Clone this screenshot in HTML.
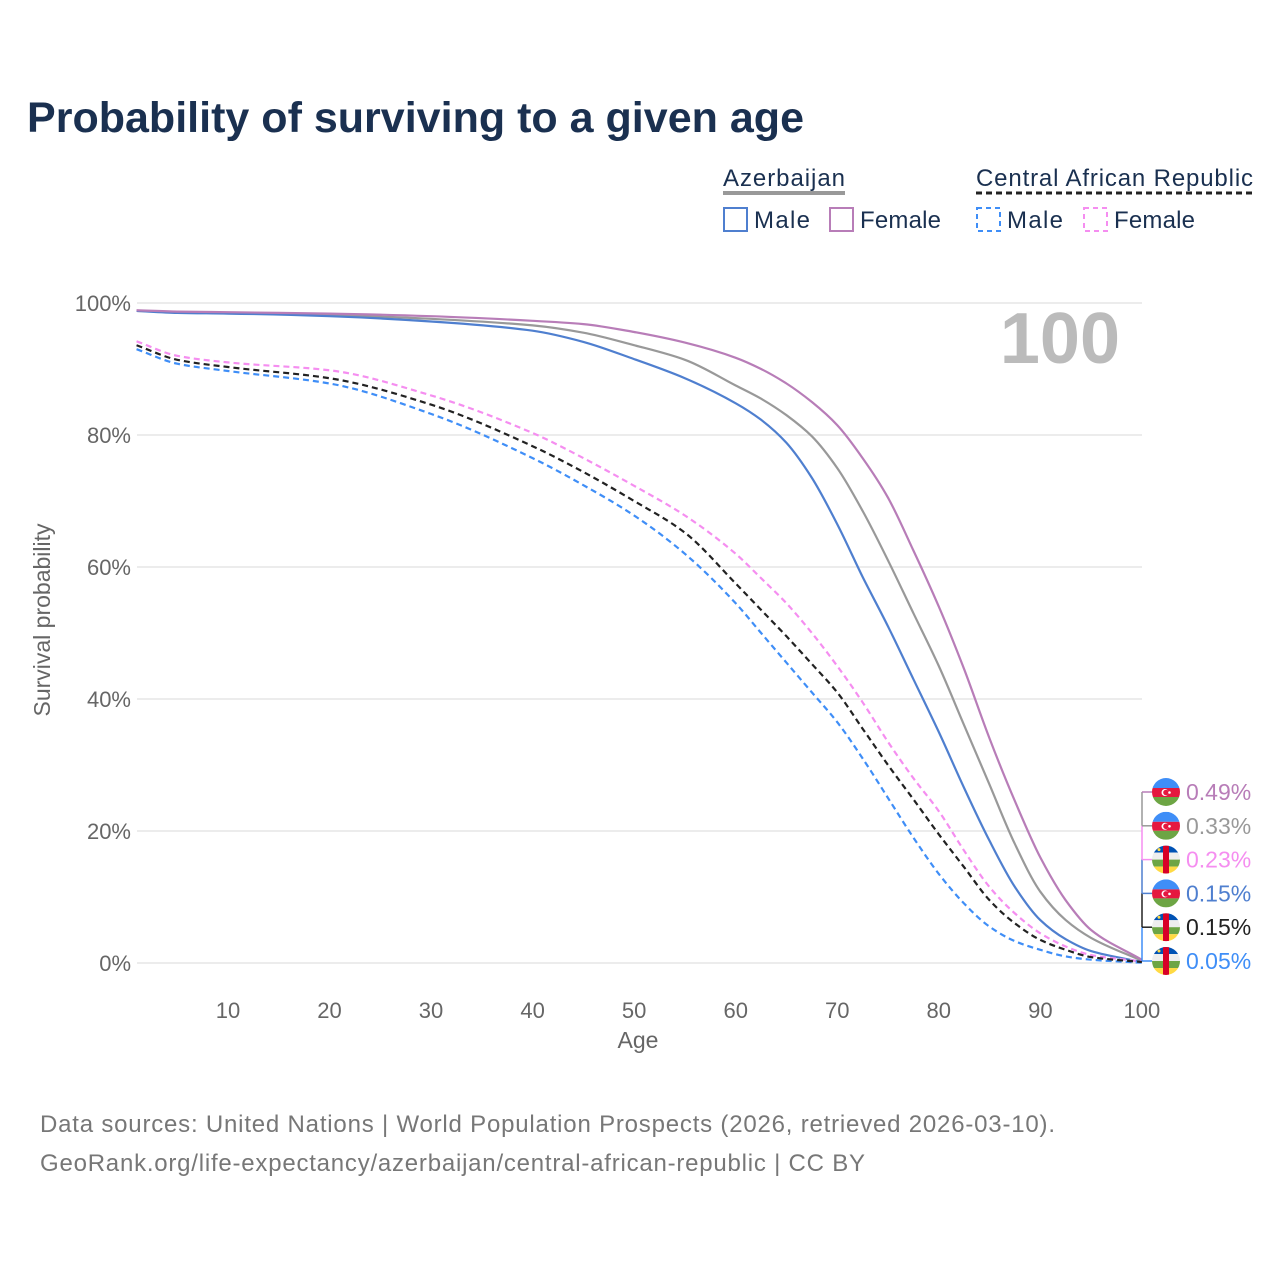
<!DOCTYPE html>
<html><head><meta charset="utf-8"><style>
body{margin:0;background:#fff;}
svg{display:block;font-family:"Liberation Sans",sans-serif;}
</style></head><body>
<svg id="chart" width="1280" height="1280" viewBox="0 0 1280 1280">
<defs><clipPath id="cc"><circle cx="0" cy="0" r="14"/></clipPath></defs>
<text x="27" y="132" font-size="43" font-weight="bold" fill="#1a3050" textLength="777" lengthAdjust="spacingAndGlyphs">Probability of surviving to a given age</text>
<g font-size="24" fill="#1a3050">
<text x="723" y="186" textLength="122">Azerbaijan</text>
<line x1="723" y1="193" x2="845" y2="193" stroke="#999" stroke-width="4"/>
<text x="976" y="186" textLength="277">Central African Republic</text>
<line x1="976" y1="193" x2="1254" y2="193" stroke="#222" stroke-width="3" stroke-dasharray="6,4"/>
<rect x="724" y="208" width="23" height="23" fill="none" stroke="#4f7fcf" stroke-width="2"/>
<text x="754" y="228" textLength="56">Male</text>
<rect x="830" y="208" width="23" height="23" fill="none" stroke="#b87db8" stroke-width="2"/>
<text x="860" y="228" textLength="81">Female</text>
<rect x="977" y="208" width="23" height="23" fill="none" stroke="#3f8ef7" stroke-width="2" stroke-dasharray="5,4"/>
<text x="1007" y="228" textLength="56">Male</text>
<rect x="1084" y="208" width="23" height="23" fill="none" stroke="#f58ef0" stroke-width="2" stroke-dasharray="5,4"/>
<text x="1114" y="228" textLength="81">Female</text>
</g>
<g id="grid"></g>
<text x="1120" y="363" font-size="72" font-weight="bold" fill="#bbb" text-anchor="end">100</text>
<g id="lines"></g>
<g id="labels"></g>
<text transform="translate(50,620) rotate(-90)" font-size="23" fill="#666" text-anchor="middle">Survival probability</text>
<text x="638" y="1048" font-size="23" fill="#666" text-anchor="middle">Age</text>
<text x="40" y="1132" font-size="24" fill="#777" textLength="1015">Data sources: United Nations | World Population Prospects (2026, retrieved 2026-03-10).</text>
<text x="40" y="1171" font-size="24" fill="#777" textLength="825">GeoRank.org/life-expectancy/azerbaijan/central-african-republic | CC BY</text>
</svg>
<script>
const ages=[1,5,10,20,30,40,45,50,55,60,62.5,65,67.5,70,72.5,75,77.5,80,82.5,85,87.5,90,92.5,95,100];
const azMale=[98.8,98.5,98.4,98,97.2,95.8,94.1,91.5,88.6,84.8,82.3,78.8,73.5,66.5,58.5,51,43,35,26.5,18.5,11.5,6.5,3.6,1.8,0.15];
const azTotal=[98.8,98.6,98.5,98.2,97.6,96.6,95.5,93.6,91.4,87.5,85.5,83,79.8,75,68.5,61,53,45,36,27,18,10.8,6.5,3.8,0.33];
const azFemale=[98.9,98.7,98.6,98.4,98,97.3,96.8,95.6,94,91.7,90,87.8,85,81.5,76.5,70.5,62.5,54,44.5,34,24.5,16,9.5,5,0.49];
const carMale=[93,90.8,89.7,87.8,83.2,76.5,72.4,67.8,62,54.5,50,45.5,41,36.5,31,25,19,13.5,9,5.5,3.3,2,1,0.5,0.05];
const carTotal=[93.6,91.4,90.3,88.6,84.6,78.3,74.4,70,65.2,57.5,53.5,49.5,45.3,41,35.5,30,24.8,19.5,14.5,9.5,6,3.5,2,0.9,0.15];
const carFemale=[94.2,92,91,89.8,86,80.3,76.5,72.3,67.8,62,58.3,54.5,50,45,39.5,33.5,28,23,17,11.5,7.5,4.5,2.5,1.2,0.23];
const xTicks=[10,20,30,40,50,60,70,80,90,100];
const yTicks=[0,20,40,60,80,100];
const endLabels=["0.49%","0.33%","0.23%","0.15%","0.15%","0.05%"];
const NS="http://www.w3.org/2000/svg";
const X=a=>126.4+a*10.155;
const Y=p=>963-p*6.6;
function mk(tag,attrs,parent){const e=document.createElementNS(NS,tag);for(const k in attrs)e.setAttribute(k,attrs[k]);parent.appendChild(e);return e;}
const grid=document.getElementById('grid');
yTicks.forEach(t=>{
 const l=mk('line',{x1:137,x2:1142,y1:Y(t),y2:Y(t),stroke:'#e6e6e6','stroke-width':1.5},grid);
 
 
 const tx=mk('text',{x:131,y:Y(t)+8,'font-size':22,fill:'#666','text-anchor':'end'},grid);
 tx.textContent=t+'%';
 
 
});
xTicks.forEach(t=>{
 const tx=mk('text',{x:X(t),y:1018,'font-size':22,fill:'#666','text-anchor':'middle'},grid);
 tx.textContent=t;
 
 
});
function monoPath(xs,ys){
 const n=xs.length,d=[],m=[];
 for(let i=0;i<n-1;i++)d.push((ys[i+1]-ys[i])/(xs[i+1]-xs[i]));
 m[0]=d[0];m[n-1]=d[n-2];
 for(let i=1;i<n-1;i++){
  if(d[i-1]*d[i]<=0){m[i]=0;continue;}
  const h0=xs[i]-xs[i-1],h1=xs[i+1]-xs[i],w1=2*h1+h0,w2=h1+2*h0;
  m[i]=(w1+w2)/(w1/d[i-1]+w2/d[i]);
 }
 let p='M'+X(xs[0])+','+Y(ys[0]);
 for(let i=0;i<n-1;i++){const h=xs[i+1]-xs[i];
  p+=' C'+X(xs[i]+h/3).toFixed(1)+','+Y(ys[i]+m[i]*h/3).toFixed(1)+' '+X(xs[i+1]-h/3).toFixed(1)+','+Y(ys[i+1]-m[i+1]*h/3).toFixed(1)+' '+X(xs[i+1]).toFixed(1)+','+Y(ys[i+1]).toFixed(1);}
 return p;
}
const lines=document.getElementById('lines');
const series=[[azTotal,'#999','','az-total-line'],[azMale,'#4f7fcf','','az-male-line'],[azFemale,'#b87db8','','az-female-line'],
 [carMale,'#3f8ef7','6,4','car-male-line'],[carFemale,'#f58ef0','6,4','car-female-line'],[carTotal,'#222','6,4','car-total-line']];
series.forEach(s=>{
 const p=mk('path',{d:monoPath(ages,s[0]),fill:'none',stroke:s[1],'stroke-width':2.2,'stroke-dasharray':s[2]||'none','stroke-linejoin':'round'},lines);
 
 
});
const lab=document.getElementById('labels');
const labColors=['#b87db8','#999','#f58ef0','#4f7fcf','#222','#3f8ef7'];
const flags=['az','az','car','az','car','car'];
endLabels.forEach((t,i)=>{
 const y=792+i*33.8;
 if(i<5){mk('line',{x1:1142,y1:y,x2:1142,y2:y+33.8,stroke:labColors[i+1],'stroke-width':1.5},lab);}
 mk('line',{x1:1142,y1:y,x2:1152,y2:y,stroke:labColors[i],'stroke-width':1.5},lab);
 const g=mk('g',{transform:'translate(1166,'+y+')','clip-path':'url(#cc)'},lab);
 
 
 if(flags[i]=='az'){
  mk('rect',{x:-14,y:-14,width:28,height:10,fill:'#3f8ef7'},g);
  mk('rect',{x:-14,y:-4,width:28,height:9,fill:'#e5173f'},g);
  mk('rect',{x:-14,y:5,width:28,height:9,fill:'#6da544'},g);
  mk('circle',{cx:-1,cy:0.5,r:3.5,fill:'#fff'},g);
  mk('circle',{cx:0,cy:0.5,r:2.8,fill:'#e5173f'},g);
  mk('circle',{cx:3.5,cy:0.5,r:1.3,fill:'#fff'},g);
 }else{
  mk('rect',{x:-14,y:-14,width:28,height:7,fill:'#0052b4'},g);
  mk('rect',{x:-14,y:-7,width:28,height:7,fill:'#eee'},g);
  mk('rect',{x:-14,y:0,width:28,height:7,fill:'#6da544'},g);
  mk('rect',{x:-14,y:7,width:28,height:7,fill:'#ffda44'},g);
  mk('rect',{x:-3,y:-14,width:6,height:28,fill:'#d80027'},g);
  mk('circle',{cx:-7,cy:-10,r:1.5,fill:'#ffda44'},g);
 }
 const tx=mk('text',{x:1186,y:y+8,'font-size':23,fill:labColors[i]},lab);
 tx.textContent=t;
 
 
});
</script>
</body></html>
